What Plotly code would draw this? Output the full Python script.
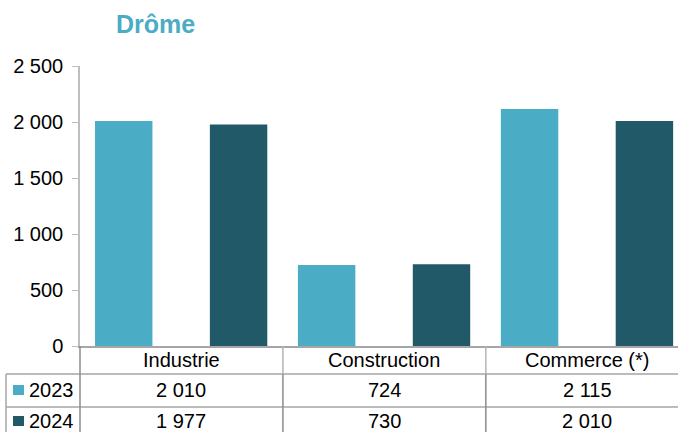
import plotly.graph_objects as go

# données
categories = ['Industrie', 'Construction', 'Commerce (*)']
series_names = ['2023', '2024']
values_2023 = [2010, 724, 2115]
values_2024 = [1977, 730, 2010]
y_ticks = [0, 500, 1000, 1500, 2000, 2500]

colors = ['#4BACC6', '#215968']
font = 'Liberation Sans, Arial, sans-serif'


def fmt(v):
    return f'{v:,}'.replace(',', ' ')


fig = go.Figure()

# barres : décalées à l'intérieur de chaque catégorie
offsets = [-0.426, 0.14]
for name, vals, color, off in zip(series_names, [values_2023, values_2024], colors, offsets):
    fig.add_trace(go.Bar(
        x=categories,
        y=vals,
        name=name,
        marker=dict(color=color, line=dict(width=0)),
        width=0.283,
        offset=off,
        hoverinfo='y',
    ))

# tableau de données sous le graphique
def py(px):
    # pixels -> coordonnées papier (zone de tracé 66..346)
    return (346 - px) / 280


def pxx(px):
    return (px - 80) / 598


line_col = '#A6A6A6'
shapes = []
for yy in [374, 407]:
    shapes.append(dict(type='line', xref='paper', yref='paper',
                       x0=pxx(6), x1=1.05, y0=py(yy), y1=py(yy),
                       line=dict(color=line_col, width=1.5)))
shapes.append(dict(type='line', xref='paper', yref='paper',
                   x0=pxx(6), x1=pxx(6), y0=py(374), y1=py(440),
                   line=dict(color=line_col, width=1.5)))
shapes.append(dict(type='line', xref='paper', yref='paper',
                   x0=0, x1=0, y0=0, y1=py(440),
                   line=dict(color='#8C8C8C', width=1.5)))
for i in range(len(categories)):
    # en-tête plus clair, lignes de valeurs plus foncées
    shapes.append(dict(type='line', xref='x', yref='paper',
                       x0=i + 0.5, x1=i + 0.5, y0=0, y1=py(374),
                       line=dict(color='#B4B4B4', width=1.5)))
    shapes.append(dict(type='line', xref='x', yref='paper',
                       x0=i + 0.5, x1=i + 0.5, y0=py(374), y1=py(440),
                       line=dict(color='#8C8C8C', width=1.5)))

annotations = []
text_font = dict(family=font, size=20, color='#000000')
for i, cat in enumerate(categories):
    annotations.append(dict(x=cat, y=py(360), xref='x', yref='paper',
                            text=cat, showarrow=False, font=text_font,
                            xanchor='center', yanchor='middle'))
row_y = [390, 421]
for name, vals, color, ry in zip(series_names, [values_2023, values_2024], colors, row_y):
    shapes.append(dict(type='rect', xref='paper', yref='paper',
                       x0=pxx(13), x1=pxx(24), y0=py(ry - 5), y1=py(ry + 5),
                       fillcolor=color, line=dict(width=0)))
    annotations.append(dict(x=pxx(27), y=py(ry), xref='paper', yref='paper',
                            text=name, showarrow=False, font=text_font,
                            xanchor='left', yanchor='middle'))
    for cat, v in zip(categories, vals):
        annotations.append(dict(x=cat, y=py(ry), xref='x', yref='paper',
                                text=fmt(v), showarrow=False, font=text_font,
                                xanchor='center', yanchor='middle'))

# titre
annotations.append(dict(x=pxx(155.5), y=py(24), xref='paper', yref='paper',
                        text='<b>Drôme</b>', showarrow=False,
                        font=dict(family=font, size=25, color='#4BACC6'),
                        xanchor='center', yanchor='middle'))

fig.update_layout(
    width=678,
    height=432,
    margin=dict(l=80, r=0, t=66, b=86),
    plot_bgcolor='white',
    paper_bgcolor='white',
    barmode='overlay',
    showlegend=False,
    separators=', ',
    font=dict(family=font, size=20, color='#000000'),
    shapes=shapes,
    annotations=annotations,
)
fig.update_xaxes(
    range=[-0.5, 2.447],
    showticklabels=False,
    showline=True, linecolor='#A6A6A6', linewidth=1.5,
    showgrid=False, zeroline=False, ticks='',
)
fig.update_yaxes(
    range=[0, 2500],
    tickvals=y_ticks,
    tickformat=',d',
    showline=True, linecolor='#BFBFBF', linewidth=1.5,
    ticks='outside', ticklen=6, tickcolor='#BFBFBF', tickwidth=1,
    ticklabelstandoff=5,
    showgrid=False, zeroline=False,
)

fig.write_html('out.html', config={'displayModeBar': False},
               post_script="document.body.style.margin='0';")
